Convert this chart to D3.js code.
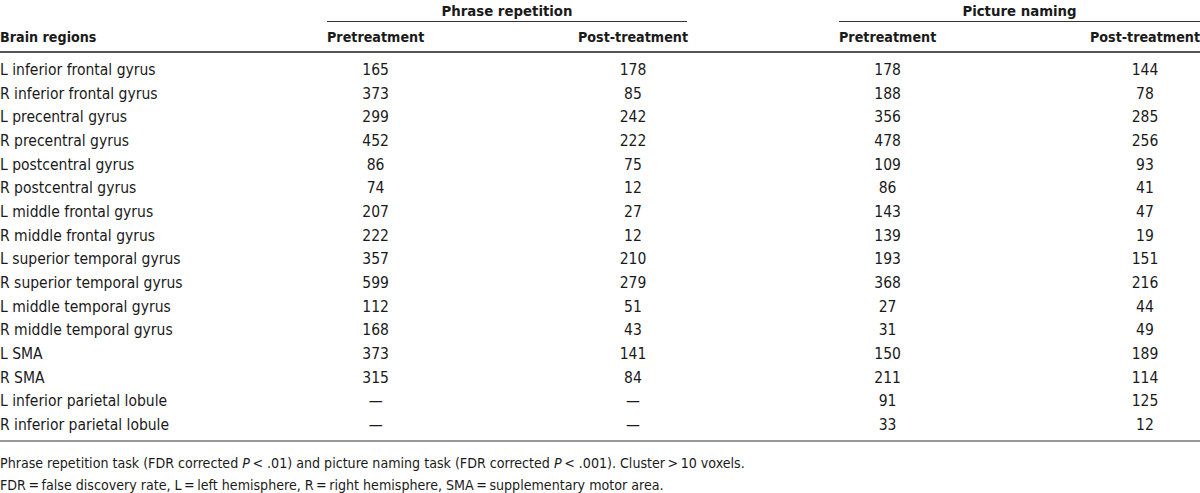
<!DOCTYPE html>
<html><head><meta charset="utf-8">
<script src="https://cdn.jsdelivr.net/npm/d3@7/dist/d3.min.js"></script>
<style>
body{margin:0;background:#fff;}
svg{display:block;}
text{font-family:"Liberation Sans Narrow","DejaVu Sans Condensed","Arial Narrow",sans-serif;fill:#1a1a1a;}
</style></head>
<body><svg id="c" width="1200" height="493"></svg>
<script>
const regions = ["L inferior frontal gyrus","R inferior frontal gyrus","L precentral gyrus","R precentral gyrus","L postcentral gyrus","R postcentral gyrus","L middle frontal gyrus","R middle frontal gyrus","L superior temporal gyrus","R superior temporal gyrus","L middle temporal gyrus","R middle temporal gyrus","L SMA","R SMA","L inferior parietal lobule","R inferior parietal lobule"];
const phrasePre  = [165,373,299,452,86,74,207,222,357,599,112,168,373,315,null,null];
const phrasePost = [178,85,242,222,75,12,27,12,210,279,51,43,141,84,null,null];
const pictPre    = [178,188,356,478,109,86,143,139,193,368,27,31,150,211,91,33];
const pictPost   = [144,78,285,256,93,41,47,19,151,216,44,49,189,114,125,12];
const groups = ["Phrase repetition","Picture naming"];
const subHeaders = ["Pretreatment","Post-treatment","Pretreatment","Post-treatment"];
const footnotes = [
  [["Phrase repetition task (FDR corrected ",false],["P",true],["\u2009< .01) and picture naming task (FDR corrected ",false],["P",true],["\u2009< .001). Cluster\u2009>\u200910 voxels.",false]],
  [["FDR\u2009=\u2009false discovery rate, L\u2009=\u2009left hemisphere, R\u2009=\u2009right hemisphere, SMA\u2009=\u2009supplementary motor area.",false]]
];

const svg = d3.select("#c");
const FS = 15.5, HFS = 14.2, GFS = 14.8;
const cols = [phrasePre, phrasePost, pictPre, pictPost];
const y = d3.scalePoint().domain(d3.range(regions.length)).range([70,425]);

// group headers
const groupSpan = [[327,687],[839,1200]];
svg.selectAll("text.grp").data(groups).join("text").attr("class","grp")
  .attr("x",(d,i)=>(groupSpan[i][0]+groupSpan[i][1])/2).attr("y",10)
  .attr("dominant-baseline","central").attr("text-anchor","middle")
  .attr("font-weight","bold").attr("font-size",GFS).text(d=>d);
svg.selectAll("line.grp").data(groupSpan).join("line").attr("class","grp")
  .attr("x1",d=>d[0]).attr("x2",d=>d[1]).attr("y1",21.5).attr("y2",21.5)
  .attr("stroke","#333").attr("stroke-width",1);

// sub headers
svg.append("text").attr("x",0).attr("y",37).attr("dominant-baseline","central")
  .attr("font-weight","bold").attr("font-size",HFS).text("Brain regions");
const subPos = [[327,"start"],[688,"end"],[839,"start"],[1200,"end"]];
const subs = svg.selectAll("text.sub").data(subHeaders).join("text").attr("class","sub")
  .attr("x",(d,i)=>subPos[i][0]).attr("text-anchor",(d,i)=>subPos[i][1]).attr("y",37)
  .attr("dominant-baseline","central").attr("font-weight","bold").attr("font-size",HFS).text(d=>d);
const centers = subs.nodes().map(n=>{const b=n.getBBox();return b.x+b.width/2;});
const colX = d3.scaleOrdinal().domain([0,1,2,3]).range(centers);

svg.append("line").attr("x1",0).attr("x2",1200).attr("y1",52).attr("y2",52)
  .attr("stroke","#555").attr("stroke-width",2);

// rows
svg.selectAll("text.reg").data(regions).join("text").attr("class","reg")
  .attr("x",0).attr("y",(d,i)=>y(i)).attr("dominant-baseline","central")
  .attr("font-size",FS).text(d=>d);
cols.forEach((col,ci)=>{
  svg.selectAll("text.c"+ci).data(col).join("text").attr("class","c"+ci)
    .attr("x",colX(ci)).attr("y",(d,i)=>y(i)).attr("text-anchor","middle")
    .attr("dominant-baseline","central").attr("font-size",FS)
    .text(d=>d==null?"\u2014":d);
});

svg.append("line").attr("x1",0).attr("x2",1200).attr("y1",441).attr("y2",441)
  .attr("stroke","#333").attr("stroke-width",1.2);

// footnotes
footnotes.forEach((parts,fi)=>{
  const t = svg.append("text").attr("x",0).attr("y",[463,485][fi])
    .attr("dominant-baseline","central").attr("font-size",14.1);
  parts.forEach(p=>t.append("tspan").attr("font-style",p[1]?"italic":null).text(p[0]));
});
</script></body></html>
